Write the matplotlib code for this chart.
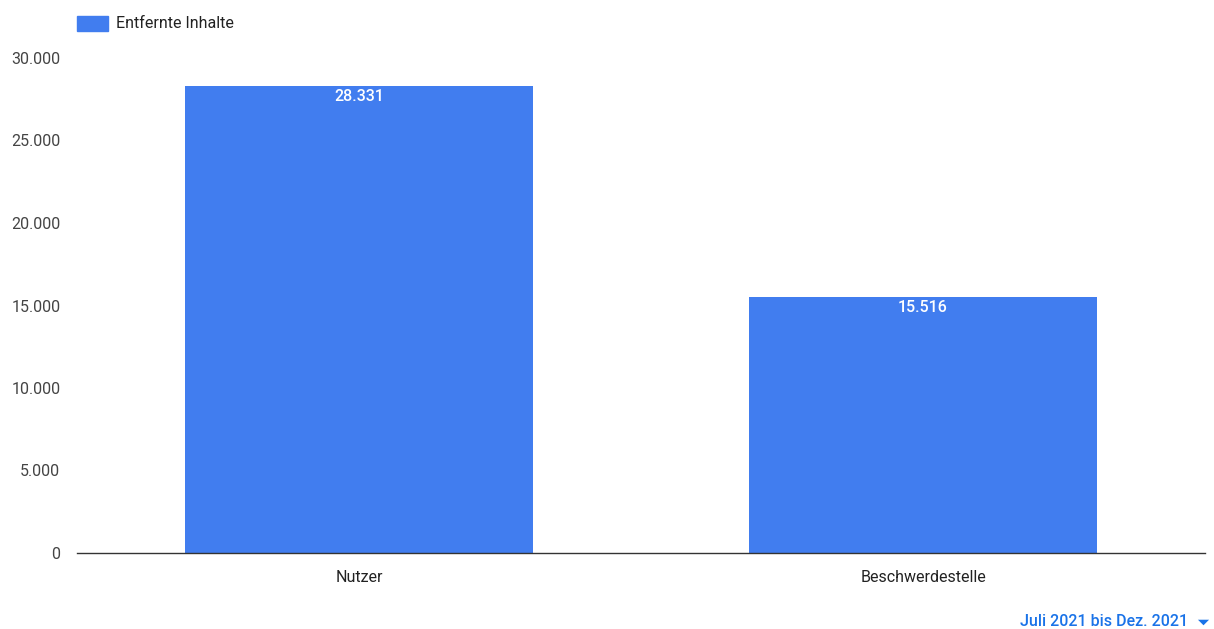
import matplotlib.pyplot as plt
from matplotlib.patches import Rectangle

# Daten
kategorien = ['Nutzer', 'Beschwerdestelle']
entfernte_inhalte = [28331, 15516]
y_ticks = [0, 5000, 10000, 15000, 20000, 25000, 30000]
y_tick_labels = ['0', '5.000', '10.000', '15.000', '20.000', '25.000', '30.000']

plt.rcParams['font.family'] = ['Roboto', 'DejaVu Sans']
blau = '#417DEF'

fig = plt.figure(figsize=(12.14, 6.29), dpi=100)
ax = fig.add_axes([77 / 1214, 1 - 553 / 629, 1128 / 1214, 495 / 629])

x = range(len(kategorien))
bars = ax.bar(x, entfernte_inhalte, width=0.617, color=blau, zorder=2)

for bar, wert in zip(bars, entfernte_inhalte):
    label = f'{wert:,}'.replace(',', '.')
    ax.annotate(label, (bar.get_x() + bar.get_width() / 2, bar.get_height()),
                xytext=(0, -11), textcoords='offset pixels',
                ha='center', va='center', color='white', fontsize=11.5,
                fontweight='medium')

ax.set_xlim(-0.5, 1.5)
ax.set_ylim(0, 30000)
ax.set_xticks(list(x))
ax.set_xticklabels(kategorien, fontsize=11.5, color='#222222')
ax.set_yticks(y_ticks)
ax.set_yticklabels(y_tick_labels, fontsize=11.5, color='#444444')
ax.tick_params(axis='both', length=0)
ax.tick_params(axis='y', pad=12)
ax.tick_params(axis='x', pad=12)

for side in ['top', 'right', 'left']:
    ax.spines[side].set_visible(False)
ax.spines['bottom'].set_color('#333333')
ax.spines['bottom'].set_linewidth(1)
ax.spines['bottom'].set_zorder(3)

# Legende
fig.patches.append(Rectangle((77 / 1214, 1 - 31 / 629), 31 / 1214, 15 / 629,
                             transform=fig.transFigure, color=blau))
fig.text(116 / 1214, 1 - 23 / 629, 'Entfernte Inhalte', fontsize=11.5,
         color='#222222', va='center', ha='left')

# Zeitraum
fig.text(1188 / 1214, 1 - 622 / 629, 'Juli 2021 bis Dez. 2021', fontsize=11.5,
         color='#1A73E8', va='center', ha='right', fontweight='medium')
dreieck = [(-1, 0.5), (1, 0.5), (0, -0.5), (-1, 0.5)]
ax.plot([1203 / 1214], [1 - 622 / 629], marker=dreieck, markersize=8,
        color='#1A73E8', markeredgewidth=0, transform=fig.transFigure,
        clip_on=False)

fig.savefig('out.png', dpi=100)
